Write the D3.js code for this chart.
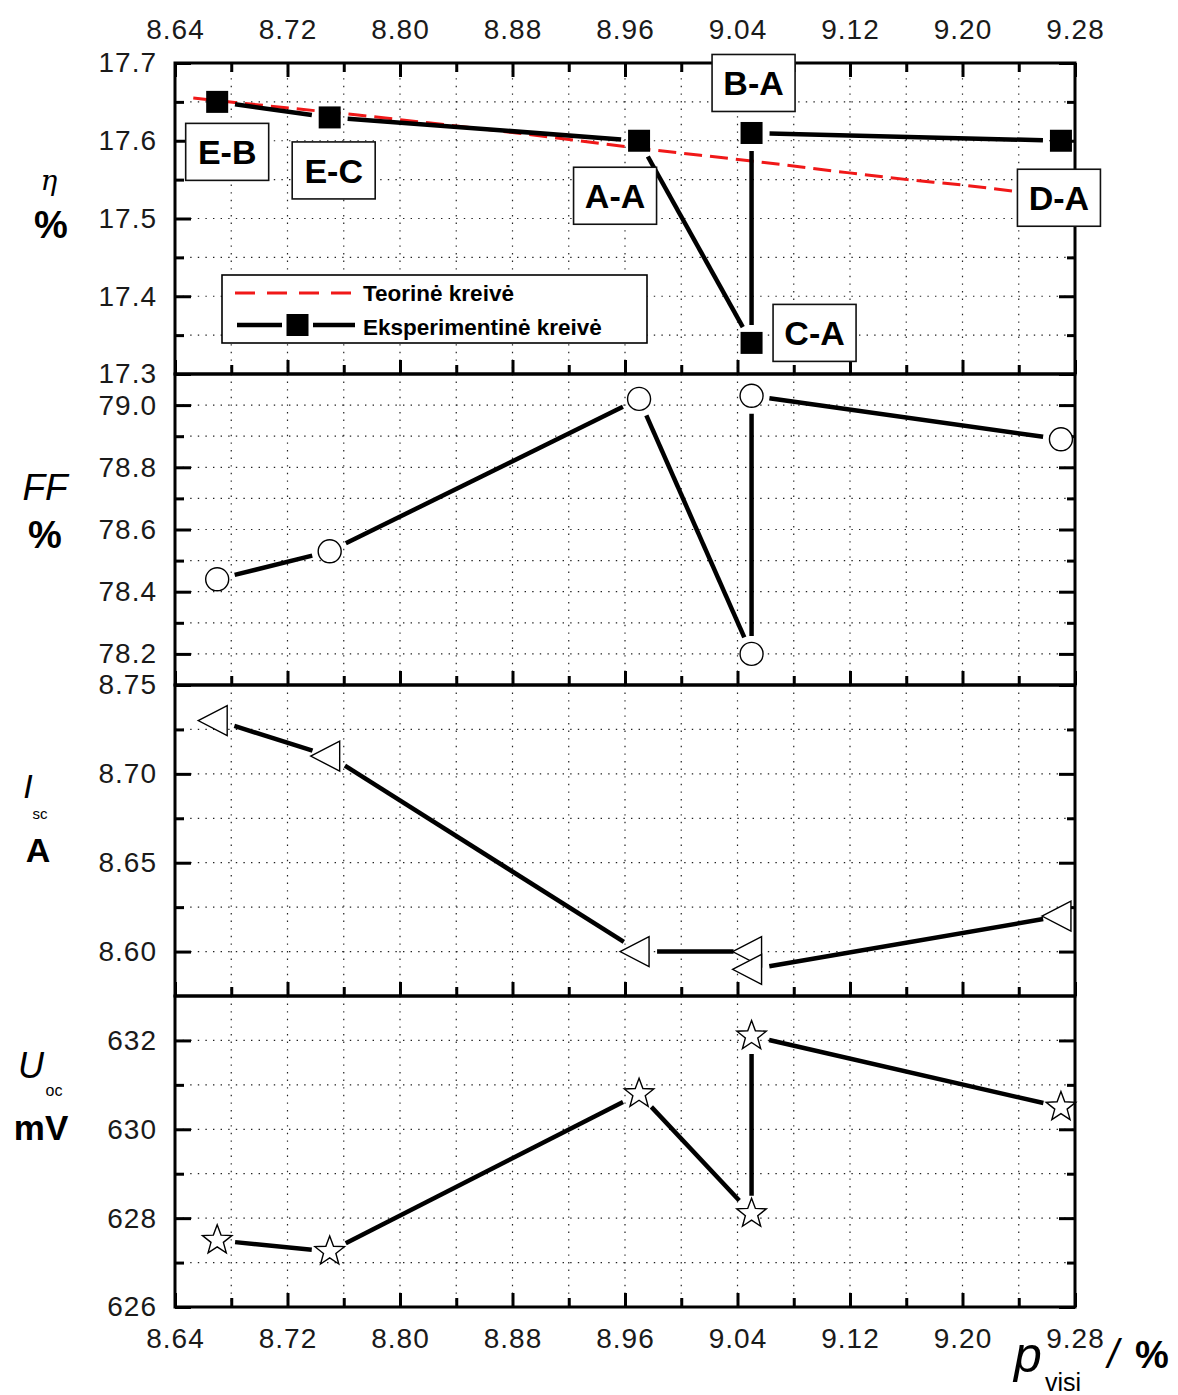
<!DOCTYPE html>
<html>
<head>
<meta charset="utf-8">
<script src="https://cdn.jsdelivr.net/npm/d3@7"></script>
<style>
  body { margin: 0; background: #fff; }
  svg { display: block; }
  .tick text { font-family: "Liberation Sans", Arial, sans-serif; font-size: 28px; fill: #1a1a1a; letter-spacing: 1px; }
</style>
</head>
<body>
<svg id="chart" width="1178" height="1395"></svg>
<script>
// Samples, in the order the experimental curve connects them
const samples = ["E-B", "E-C", "A-A", "C-A", "B-A", "D-A"];
const pVisi = [8.67, 8.75, 8.97, 9.05, 9.05, 9.27];

// Measured parameters of each sample
const eta = [17.65, 17.63, 17.60, 17.34, 17.61, 17.60];
const ff  = [78.44, 78.53, 79.02, 78.20, 79.03, 78.89];
const isc = [8.73, 8.71, 8.60, 8.60, 8.59, 8.62];
const uoc = [627.5, 627.25, 630.8, 628.1, 632.1, 630.5];

// Theoretical efficiency curve
const theoryP   = [8.653, 8.70, 8.77, 8.883, 8.976, 9.05, 9.118, 9.161, 9.20, 9.241];
const theoryEta = [17.655, 17.646, 17.633, 17.610, 17.589, 17.574, 17.559, 17.550, 17.543, 17.534];

// Axis domains and tick labels
const xDomain = [8.64, 9.28];
const xTicks = ["8.64", "8.72", "8.80", "8.88", "8.96", "9.04", "9.12", "9.20", "9.28"];
const xMinor = [8.68, 8.76, 8.84, 8.92, 9.00, 9.08, 9.16, 9.24];

const etaDomain = [17.3, 17.7];
const etaTicks = ["17.7", "17.6", "17.5", "17.4", "17.3"];
const etaMinor = [17.35, 17.45, 17.55, 17.65];

const ffDomain = [78.1, 79.1];
const ffTicks = ["79.0", "78.8", "78.6", "78.4", "78.2"];
const ffMinor = [78.3, 78.5, 78.7, 78.9];

const iscDomain = [8.575, 8.75];
const iscTicks = ["8.75", "8.70", "8.65", "8.60"];
const iscMinor = [8.625, 8.675, 8.725];

const uocDomain = [626, 633];
const uocTicks = ["632", "630", "628", "626"];
const uocMinor = [627, 629, 631];

const legendLabels = ["Teorinė kreivė", "Eksperimentinė kreivė"];

// ---------------------------------------------------------------
const svg = d3.select("#chart");
const left = 175, right = 1075;
const panelEdges = [63, 374, 685, 996, 1307];
const x = d3.scaleLinear().domain(xDomain).range([left, right]);

const panels = [
  { values: eta, domain: etaDomain, ticks: etaTicks, minor: etaMinor, marker: "square" },
  { values: ff,  domain: ffDomain,  ticks: ffTicks,  minor: ffMinor,  marker: "circle" },
  { values: isc, domain: iscDomain, ticks: iscTicks, minor: iscMinor, marker: "triangle" },
  { values: uoc, domain: uocDomain, ticks: uocTicks, minor: uocMinor, marker: "star" }
];

const dotted = "1.4,6.2";

function starPath(R, r) {
  const pts = [];
  for (let k = 0; k < 10; k++) {
    const a = -Math.PI / 2 + k * Math.PI / 5;
    const rad = k % 2 === 0 ? R : r;
    pts.push([rad * Math.cos(a), rad * Math.sin(a)]);
  }
  return "M" + pts.map(p => p.join(",")).join("L") + "Z";
}

function drawMarker(g, type, cx, cy) {
  if (type === "square") {
    g.append("rect").attr("x", cx - 11).attr("y", cy - 11)
      .attr("width", 22).attr("height", 22).attr("fill", "#000");
  } else if (type === "circle") {
    g.append("circle").attr("cx", cx).attr("cy", cy).attr("r", 11.5)
      .attr("fill", "#fff").attr("stroke", "#000").attr("stroke-width", 1.4);
  } else if (type === "triangle") {
    g.append("path")
      .attr("d", `M${cx - 19},${cy}L${cx + 10},${cy - 15}L${cx + 10},${cy + 15}Z`)
      .attr("fill", "#fff").attr("stroke", "#000").attr("stroke-width", 1.4);
  } else {
    g.append("path").attr("transform", `translate(${cx},${cy})`)
      .attr("d", starPath(15.5, 6.5))
      .attr("fill", "#fff").attr("stroke", "#000").attr("stroke-width", 1.4);
  }
}

panels.forEach((p, i) => {
  const top = panelEdges[i], bottom = panelEdges[i + 1];
  const y = d3.scaleLinear().domain(p.domain).range([bottom, top]);
  p.y = y;
  const g = svg.append("g");
  const eps = 1e-6;

  // dotted grid
  const hVals = p.ticks.map(Number).concat(p.minor)
    .filter(v => v > p.domain[0] + eps && v < p.domain[1] - eps);
  g.selectAll(".hgrid").data(hVals).join("line")
    .attr("x1", left).attr("x2", right)
    .attr("y1", d => y(d)).attr("y2", d => y(d))
    .attr("stroke", "#222").attr("stroke-width", 1.2).attr("stroke-dasharray", dotted);
  const vVals = xTicks.map(Number).concat(xMinor)
    .filter(v => v > xDomain[0] + eps && v < xDomain[1] - eps);
  g.selectAll(".vgrid").data(vVals).join("line")
    .attr("y1", top).attr("y2", bottom)
    .attr("x1", d => x(d)).attr("x2", d => x(d))
    .attr("stroke", "#222").attr("stroke-width", 1.2).attr("stroke-dasharray", dotted);

  // left axis with labels, right axis mirrored
  g.append("g").attr("transform", `translate(${left},0)`)
    .call(d3.axisLeft(y).tickValues(p.ticks.map(Number)).tickSize(-16).tickPadding(18)
      .tickFormat((d, k) => p.ticks[k]));
  g.append("g").attr("transform", `translate(${left},0)`)
    .call(d3.axisLeft(y).tickValues(p.minor).tickSize(-9).tickFormat(""));
  g.append("g").attr("transform", `translate(${right},0)`)
    .call(d3.axisRight(y).tickValues(p.ticks.map(Number)).tickSize(-16).tickFormat(""));
  g.append("g").attr("transform", `translate(${right},0)`)
    .call(d3.axisRight(y).tickValues(p.minor).tickSize(-8).tickFormat(""));

  // x ticks along bottom of each panel
  const isLast = i === panels.length - 1;
  g.append("g").attr("transform", `translate(0,${bottom})`)
    .call(d3.axisBottom(x).tickValues(xTicks.map(Number)).tickSize(-14).tickPadding(21)
      .tickFormat((d, k) => isLast ? xTicks[k] : ""));
  g.append("g").attr("transform", `translate(0,${bottom})`)
    .call(d3.axisBottom(x).tickValues(xMinor).tickSize(-9).tickFormat(""));
  if (i === 0) {
    g.append("g").attr("transform", `translate(0,${top})`)
      .call(d3.axisTop(x).tickValues(xTicks.map(Number)).tickSize(-14).tickPadding(24)
        .tickFormat((d, k) => xTicks[k]));
    g.append("g").attr("transform", `translate(0,${top})`)
      .call(d3.axisTop(x).tickValues(xMinor).tickSize(-9).tickFormat(""));
  }
  g.selectAll(".domain").remove();
  g.selectAll(".tick line").attr("stroke", "#000").attr("stroke-width", 3);

  // theoretical curve in efficiency panel
  if (i === 0) {
    const pts = theoryP.map((v, k) => [v, theoryEta[k]]);
    g.append("path").datum(pts)
      .attr("d", d3.line().x(d => x(d[0])).y(d => y(d[1])).curve(d3.curveMonotoneX))
      .attr("fill", "none").attr("stroke", "#f01818").attr("stroke-width", 3)
      .attr("stroke-dasharray", "18,8");
  }

  // experimental curve: segments stop short of the markers
  const px = pVisi.map((v, k) => [x(v), y(p.values[k])]);
  const gap = 18;
  for (let k = 0; k < px.length - 1; k++) {
    const [x1, y1] = px[k], [x2, y2] = px[k + 1];
    const len = Math.hypot(x2 - x1, y2 - y1);
    if (len <= 2 * gap) continue;
    const ux = (x2 - x1) / len, uy = (y2 - y1) / len;
    g.append("line")
      .attr("x1", x1 + ux * gap).attr("y1", y1 + uy * gap)
      .attr("x2", x2 - ux * gap).attr("y2", y2 - uy * gap)
      .attr("stroke", "#000").attr("stroke-width", 4.5);
  }
  px.forEach(([cx, cy]) => drawMarker(g, p.marker, cx, cy));

  // panel frame
  svg.append("rect").attr("x", left).attr("y", top)
    .attr("width", right - left).attr("height", bottom - top)
    .attr("fill", "none").attr("stroke", "#000").attr("stroke-width", 3);
});

// sample name boxes in the efficiency panel
const boxOffsets = { "E-B": [10, 50], "E-C": [4, 53], "A-A": [-24, 55], "B-A": [2, -50], "C-A": [63, -10], "D-A": [-2, 57] };
const yEta = panels[0].y;
const ann = svg.append("g");
samples.forEach((s, k) => {
  const cx = x(pVisi[k]) + boxOffsets[s][0];
  const cy = yEta(eta[k]) + boxOffsets[s][1];
  ann.append("rect").attr("x", cx - 41.5).attr("y", cy - 28.5)
    .attr("width", 83).attr("height", 57)
    .attr("fill", "#fff").attr("stroke", "#111").attr("stroke-width", 1.6);
  ann.append("text").attr("x", cx).attr("y", cy).attr("dy", "0.36em")
    .attr("text-anchor", "middle")
    .attr("font-family", "Liberation Sans, Arial, sans-serif")
    .attr("font-weight", "bold").attr("font-size", 34).attr("fill", "#000")
    .text(s);
});

// legend
const lg = svg.append("g");
lg.append("rect").attr("x", 222).attr("y", 275).attr("width", 425).attr("height", 68)
  .attr("fill", "#fff").attr("stroke", "#000").attr("stroke-width", 1.6);
lg.append("line").attr("x1", 235).attr("x2", 353).attr("y1", 293).attr("y2", 293)
  .attr("stroke", "#f01818").attr("stroke-width", 3).attr("stroke-dasharray", "20,12");
lg.append("line").attr("x1", 237).attr("x2", 282).attr("y1", 325).attr("y2", 325)
  .attr("stroke", "#000").attr("stroke-width", 4.5);
lg.append("line").attr("x1", 313).attr("x2", 355).attr("y1", 325).attr("y2", 325)
  .attr("stroke", "#000").attr("stroke-width", 4.5);
drawMarker(lg, "square", 297.5, 325);
legendLabels.forEach((t, k) => {
  lg.append("text").attr("x", 363).attr("y", 301 + k * 34)
    .attr("font-family", "Liberation Sans, Arial, sans-serif")
    .attr("font-weight", "bold").attr("font-size", 22.5).attr("fill", "#000")
    .text(t);
});

// axis titles
const ff_ = "Liberation Sans, Arial, sans-serif";
function txt(xp, yp, s, size, opts = {}) {
  return svg.append("text").attr("x", xp).attr("y", yp)
    .attr("font-family", opts.family || ff_).attr("font-size", size)
    .attr("font-weight", opts.bold ? "bold" : "normal")
    .attr("font-style", opts.italic ? "italic" : "normal")
    .attr("text-anchor", opts.anchor || "middle").attr("fill", "#000").text(s);
}
txt(49, 190, "η", 28, { italic: true, family: "DejaVu Serif, serif" });
txt(51, 238, "%", 38, { bold: true });
txt(45, 500, "FF", 37, { italic: true });
txt(45, 548, "%", 38, { bold: true });
txt(28, 798, "I", 34, { italic: true });
txt(40, 819, "sc", 15);
txt(38, 862, "A", 34, { bold: true });
txt(31, 1078, "U", 36, { italic: true });
txt(54, 1096, "oc", 16);
txt(41, 1140, "mV", 35, { bold: true });

// bottom x-axis title
txt(1028, 1372, "p", 50, { italic: true });
txt(1063, 1391, "visi", 25);
txt(1113, 1368, "/", 40, { italic: true });
txt(1152, 1368, "%", 38, { bold: true });
</script>
</body>
</html>
